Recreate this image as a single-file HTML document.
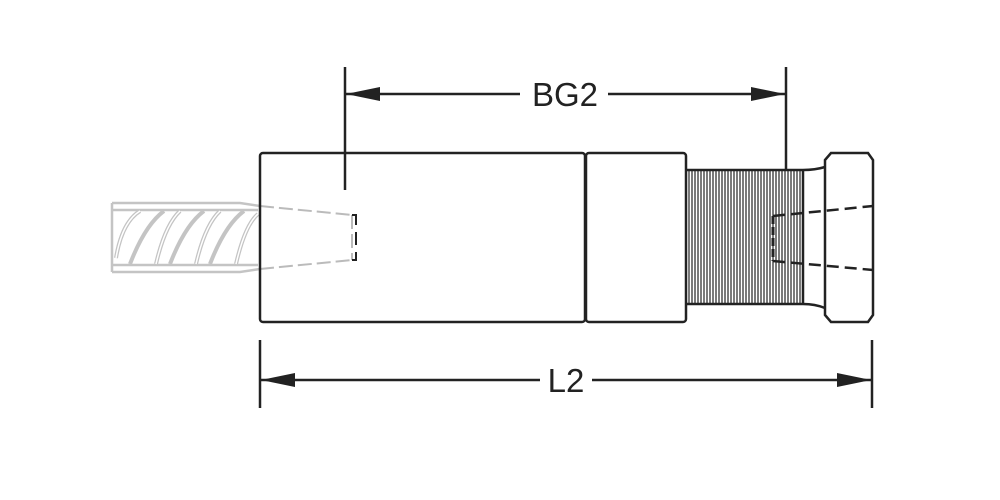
<!DOCTYPE html>
<html><head><style>body{margin:0;background:#fff}svg{display:block}</style></head>
<body>
<svg width="1000" height="500" viewBox="0 0 1000 500" xmlns="http://www.w3.org/2000/svg">
<!-- rebar -->
<g stroke="#c4c4c4" stroke-width="2.5" fill="none">
<path d="M112 203 L240 203 L260 206 M112 272 L240 272 L260 269 M112 203 L112 272"/>
<path d="M113 210 L258 210 M113 265 L258 265"/>
<g stroke-width="4">
<path d="M116 258 Q122 222 140 211"/>
<path d="M130 264 Q145 225 164 211"/>
<path d="M156 264 Q165 225 180 211"/>
<path d="M170 264 Q185 225 204 211"/>
<path d="M196 264 Q205 225 220 211"/>
<path d="M210 264 Q225 225 244 211"/>
<path d="M236 264 Q245 225 258 214"/>
</g>
<g stroke="#fff" stroke-width="1.5">
<path d="M116 258 Q122 222 140 211"/>
<path d="M156 264 Q165 225 180 211"/>
<path d="M196 264 Q205 225 220 211"/>
<path d="M236 264 Q245 225 258 214"/>
</g>
</g>
<g stroke="#bbb" stroke-width="2" fill="none" stroke-dasharray="14 5">
<path d="M260 206 L352 215 M260 269 L352 260 M352 215 L352 260"/>
</g>
<path d="M352 215 L356 215 L356 225 M356 232 L356 245 M356 252 L356 260 L352 260" stroke="#222" stroke-width="2" fill="none"/>
<g stroke="#222" stroke-width="2.5" fill="none">
<rect x="260" y="153" width="325" height="169" rx="3"/>
<rect x="586" y="153" width="100" height="169" rx="3"/>
<path d="M687 170 L803 170 M687 304 L803 304 M803 170 L803 304"/>
<path d="M803 170 Q815 170 825 167 M803 304 Q815 304 825 308"/>
<path d="M831 153 L868 153 L873 160 L873 315 L868 322 L831 322 L825 315 L825 160 Z"/>
</g>
<g stroke="#222" stroke-width="1.2">
<path d="M689 170V304M692 170V304M695 170V304M698 170V304M701 170V304M704 170V304M707 170V304M710 170V304M713 170V304M716 170V304M719 170V304M722 170V304M725 170V304M728 170V304M731 170V304M734 170V304M737 170V304M740 170V304M743 170V304M746 170V304M749 170V304M752 170V304M755 170V304M758 170V304M761 170V304M764 170V304M767 170V304M770 170V304M773 170V304M776 170V304M779 170V304M782 170V304M785 170V304M788 170V304M791 170V304M794 170V304M797 170V304M800 170V304"/>
</g>
<g stroke="#222" stroke-width="2.5" fill="none" stroke-dasharray="12 6">
<path d="M773 216 L873 206 M773 261 L873 270"/>
</g>
<path d="M773 216 L773 261" stroke="#222" stroke-width="3" stroke-dasharray="8 3"/>
<!-- dimensions -->
<g stroke="#222" stroke-width="2.5" fill="none">
<path d="M345 67 L345 190 M786 67 L786 170"/>
<path d="M345 94 L520 94 M608 94 L786 94"/>
<path d="M260 340 L260 408 M872 340 L872 408"/>
<path d="M260 380 L540 380 M592 380 L872 380"/>
</g>
<g fill="#222">
<path d="M346 94 L380 87 L380 101 Z"/><path d="M785 94 L751 87 L751 101 Z"/>
<path d="M261 380 L295 373 L295 387 Z"/><path d="M871 380 L837 373 L837 387 Z"/>
</g>
<g font-family="Liberation Sans, sans-serif" font-size="33" fill="#222" text-anchor="middle">
<text x="565" y="106">BG2</text>
<text x="566" y="392">L2</text>
</g>
</svg>
</body></html>
